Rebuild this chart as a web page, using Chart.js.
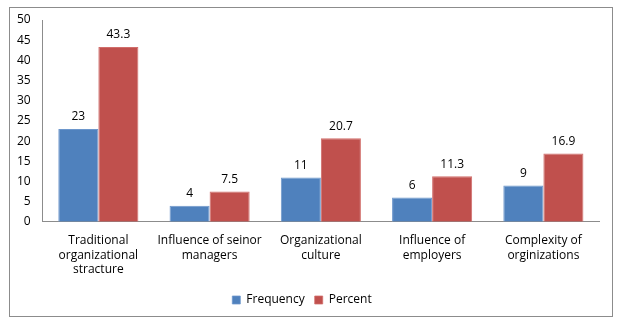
<!DOCTYPE html>
<html><head><meta charset="utf-8">
<script src="https://cdn.jsdelivr.net/npm/chart.js@4"></script>
<style>html,body{margin:0;padding:0;background:#fff}#w{width:629px;height:324px}</style>
</head><body><div id="w"><canvas id="c" width="629" height="324"></canvas></div>
<script>
const categories = [
  ["Traditional","organizational","stracture"],
  ["Influence of seinor","managers"],
  ["Organizational","culture"],
  ["Influence of","employers"],
  ["Complexity of","orginizations"]
];
const frequency = [23, 4, 11, 6, 9];
const percent = [43.3, 7.5, 20.7, 11.3, 16.9];
const seriesNames = ["Frequency", "Percent"];

const FONT = "'Open Sans', 'Liberation Sans', sans-serif";

const frame = {
  id: 'frame',
  beforeDraw(chart) {
    const ctx = chart.ctx;
    ctx.save();
    ctx.strokeStyle = '#8c8c8c';
    ctx.lineWidth = 1;
    ctx.strokeRect(9.5, 7.5, 603, 309);
    ctx.restore();
  }
};
const labels = {
  id: 'labels',
  afterDatasetsDraw(chart) {
    const ctx = chart.ctx;
    ctx.save();
    ctx.font = "12px " + FONT;
    ctx.fillStyle = '#000';
    ctx.textAlign = 'center';
    ctx.textBaseline = 'bottom';
    chart.data.datasets.forEach((ds, i) => {
      chart.getDatasetMeta(i).data.forEach((bar, j) => {
        ctx.fillText(String(ds.data[j]), bar.x, bar.y - 6);
      });
    });
    ctx.restore();
  }
};

new Chart(document.getElementById('c'), {
  type: 'bar',
  data: {
    labels: categories,
    datasets: [
      { label: seriesNames[0], data: frequency, backgroundColor: '#4F81BD', borderColor: '#6d97cc', borderWidth: {top:1,left:1,right:1,bottom:0} },
      { label: seriesNames[1], data: percent, backgroundColor: '#C0504D', borderColor: '#d16e6b', borderWidth: {top:1,left:1,right:1,bottom:0} }
    ]
  },
  options: {
    responsive: false,
    animation: false,
    devicePixelRatio: 1,
    layout: { padding: { left: 5, right: 30, top: 20, bottom: 8 } },
    datasets: { bar: { categoryPercentage: 0.72, barPercentage: 1 } },
    scales: {
      x: {
        grid: { display: false, drawTicks: false },
        border: { color: '#8c8c8c' },
        ticks: { color: '#000', font: { family: FONT, size: 12 }, padding: 12, maxRotation: 0, autoSkip: false },
        afterFit(scale) { scale.height -= 5; }
      },
      y: {
        min: 0, max: 50,
        grid: { display: false, drawTicks: false },
        border: { color: '#8c8c8c' },
        ticks: { stepSize: 5, color: '#000', font: { family: FONT, size: 12 }, padding: 12 }
      }
    },
    plugins: {
      legend: {
        position: 'bottom',
        labels: { boxWidth: 8, boxHeight: 8, color: '#000', font: { family: FONT, size: 12 }, padding: 10 }
      },
      tooltip: { enabled: false }
    }
  },
  plugins: [frame, labels]
});
</script></body></html>
